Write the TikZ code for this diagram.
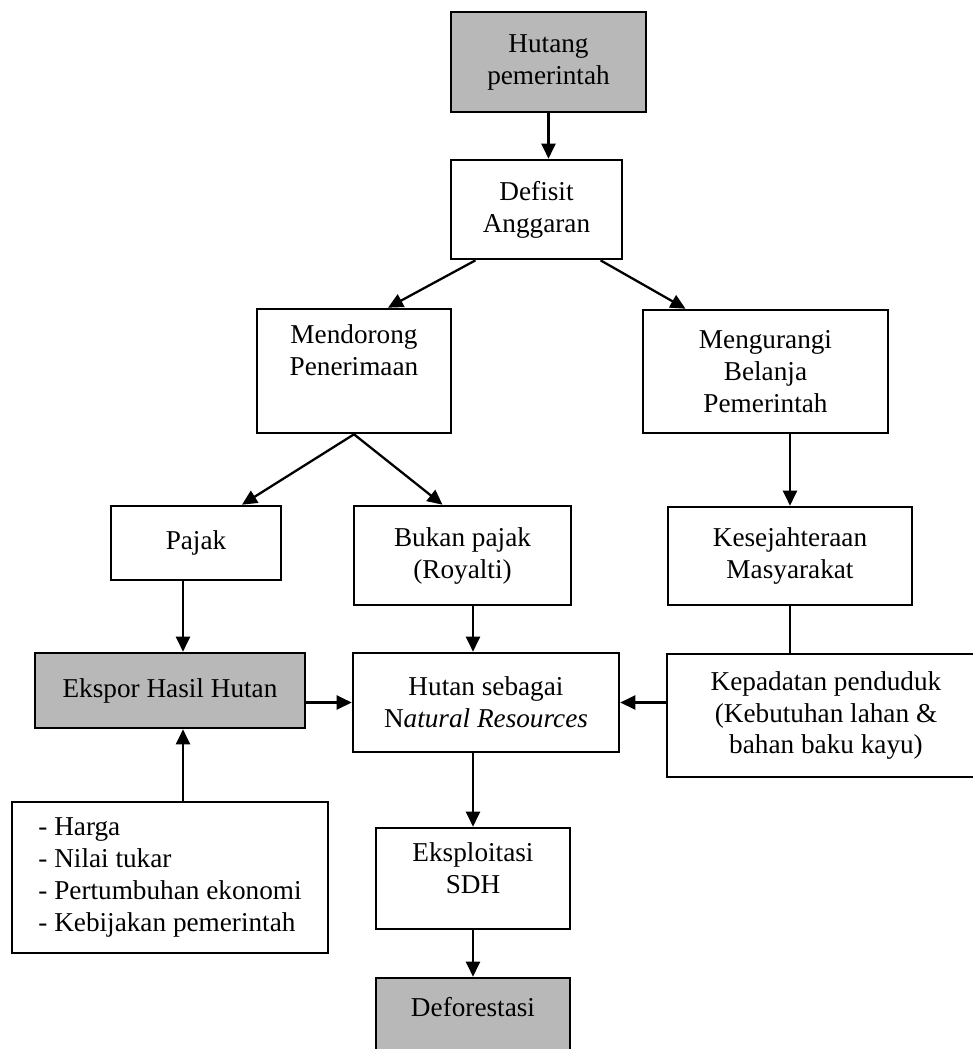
\documentclass[tikz,border=0pt]{standalone}
\usepackage{fontspec}
\setmainfont{Liberation Serif}
\usetikzlibrary{arrows.meta,calc}

\begin{document}
\begin{tikzpicture}[x=0.02cm,y=-0.02cm,
  box/.style={draw,line width=1.5pt,align=center,inner sep=0pt,font=\fontsize{15.5}{18.2}\selectfont},
  shaded/.style={box,fill=stipple},
  arr/.style={-{Triangle[length=0.3cm,width=0.28cm]},line width=1.3pt}]
% Define the scan shading
\definecolor{stipple}{gray}{0.72}
\useasboundingbox (0,0) rectangle (973,1049);

% Draw budget boxes
\node[shaded,minimum width=3.9cm,minimum height=2cm] (hutang) at (548.5,62) {Hutang\\pemerintah};
\node[box,minimum width=3.42cm,minimum height=1.98cm] (defisit) at (536.5,209.5) {Defisit\\Anggaran};
\node[box,minimum width=3.88cm,minimum height=2.48cm] (mendorong) at (354,371) {Mendorong\\Penerimaan\\\strut};
\node[box,minimum width=4.9cm,minimum height=2.46cm] (mengurangi) at (765.5,371.5) {Mengurangi\\Belanja\\Pemerintah};

% Draw revenue boxes
\node[box,minimum width=3.4cm,minimum height=1.48cm] (pajak) at (196,543) {Pajak};
\node[box,minimum width=4.34cm,minimum height=1.98cm] (bukan) at (462.5,555.5) {Bukan pajak\\(Royalti)};
\node[box,minimum width=4.88cm,minimum height=1.96cm] (kesejahteraan) at (790,556) {Kesejahteraan\\Masyarakat};

% Draw forest boxes
\node[shaded,minimum width=5.4cm,minimum height=1.5cm] (ekspor) at (170,690.5) {Ekspor Hasil Hutan};
\node[box,minimum width=5.32cm,minimum height=1.98cm] (hutan) at (486,702.5) {Hutan sebagai\\N\textit{atural Resources}};
\node[box,minimum width=6.36cm,minimum height=2.46cm] (kepadatan) at (826,715.5) {Kepadatan penduduk\\(Kebutuhan lahan \&\\bahan baku kayu)};
\node[box,align=left,minimum width=6.32cm,minimum height=3.02cm] (faktor) at (170,877.5) {- Harga\\- Nilai tukar\\- Pertumbuhan ekonomi\\- Kebijakan pemerintah};
\node[box,minimum width=3.88cm,minimum height=2.02cm] (eksploitasi) at (473,878.5) {Eksploitasi\\SDH\\[-12pt]\strut};
\node[shaded,minimum width=3.88cm,minimum height=2cm] (deforestasi) at (473,1028) {Deforestasi\\\strut};

% Draw connections
\draw[arr] (hutang.south) -- (hutang.south |- defisit.north);
\draw[arr] ($(defisit.south)+(-61,0)$) -- ($(mendorong.north)+(34,0)$);
\draw[arr] ($(defisit.south)+(64,0)$) -- ($(mengurangi.north)+(-80,0)$);
\draw[arr] (mendorong.south) -- ($(pajak.north)+(46,0)$);
\draw[arr] (mendorong.south) -- ($(bukan.north)+(-20,0)$);
\draw[arr] (kesejahteraan.north |- mengurangi.south) -- (kesejahteraan.north);
\coordinate (ekin) at ($(ekspor.north)+(13,0)$);
\draw[arr] (pajak.south -| ekin) -- (ekin);
\draw[arr] (faktor.north -| ekin) -- (ekspor.south -| ekin);
\draw[arr] (bukan.south -| eksploitasi) -- (hutan.north -| eksploitasi);
\draw[line width=1.3pt] (kesejahteraan.south) -- (kesejahteraan.south |- kepadatan.north);
\draw[arr] (ekspor.east |- hutan) -- (hutan.west);
\draw[arr] (kepadatan.west |- hutan) -- (hutan.east);
\draw[arr] (hutan.south -| eksploitasi) -- (eksploitasi.north);
\draw[arr] (eksploitasi.south) -- (deforestasi.north);
\end{tikzpicture}
\end{document}
